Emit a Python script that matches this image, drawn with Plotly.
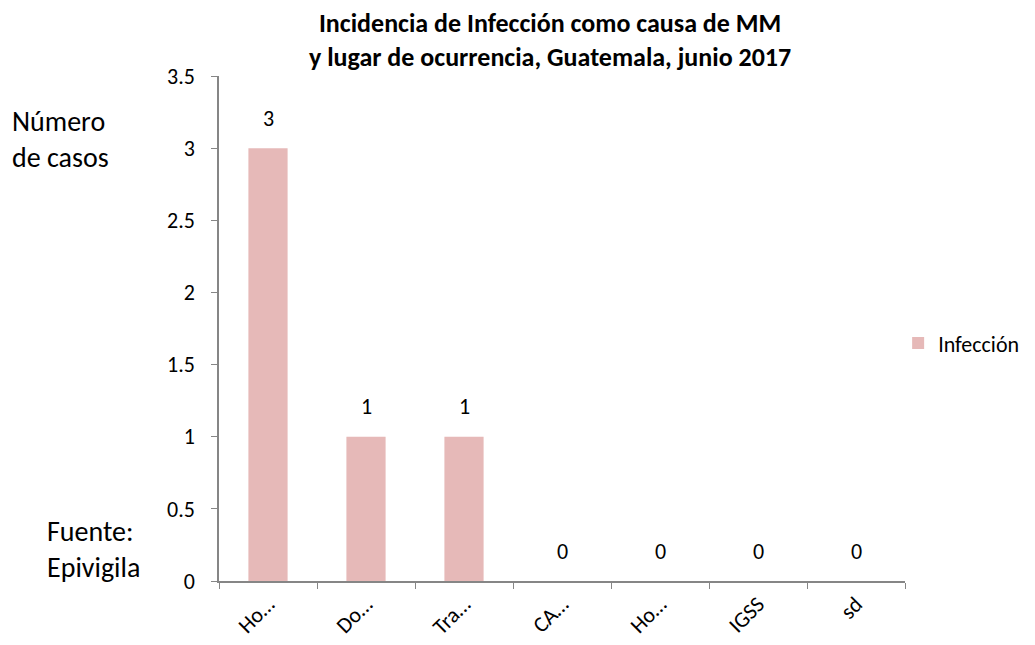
import plotly.graph_objects as go

BAR_COLOR = "#E6B9B8"
AXIS_COLOR = "#868686"
FONT = "Carlito, Calibri, Lato, sans-serif"

categories = ["Hospital", "Domicilio", "Traslado", "CAP", "Hospital privado", "IGSS", "sd"]
tick_labels = ["Ho…", "Do…", "Tra…", "CA…", "Ho…", "IGSS", "sd"]
casos = [3, 1, 1, 0, 0, 0, 0]

fig = go.Figure()

fig.add_trace(go.Bar(x=categories, y=casos, name="Infección",
                     marker=dict(color=BAR_COLOR, line=dict(width=0)),
                     width=0.4))

# data labels above each bar (Excel style, zeros included)
for cat, val in zip(categories, casos):
    fig.add_annotation(x=cat, y=val, text=str(val), showarrow=False,
                       yanchor="middle", yshift=30,
                       font=dict(size=22, color="#000000", family=FONT))

# title as annotation (two lines)
fig.add_annotation(xref="paper", yref="paper", x=0.483, y=1.071, xanchor="center", yanchor="middle",
                   text="<b>Incidencia de Infección como causa de MM<br>y lugar de ocurrencia, Guatemala, junio 2017</b>",
                   showarrow=False, align="center",
                   font=dict(size=26, color="#000000", family=FONT))

# side texts
fig.add_annotation(xref="paper", yref="paper", x=-0.305, y=0.875, xanchor="left", yanchor="middle",
                   text="Número<br>de casos", showarrow=False, align="left",
                   font=dict(size=28, color="#000000", family=FONT))
fig.add_annotation(xref="paper", yref="paper", x=-0.254, y=0.063, xanchor="left", yanchor="middle",
                   text="Fuente:<br>Epivigila", showarrow=False, align="left",
                   font=dict(size=28, color="#000000", family=FONT))

fig.update_xaxes(type="category", categoryorder="array", categoryarray=categories,
                 tickvals=categories, ticktext=tick_labels, tickangle=-45,
                 tickson="boundaries", ticks="outside", ticklen=6, tickcolor=AXIS_COLOR,
                 showline=True, linecolor=AXIS_COLOR, linewidth=1.5, showgrid=False,
                 tickfont=dict(size=22, color="#000000", family=FONT))
fig.update_yaxes(range=[0, 3.5], dtick=0.5,
                 ticks="outside", ticklen=6, tickcolor=AXIS_COLOR,
                 showline=True, linecolor=AXIS_COLOR, linewidth=1.5, showgrid=False,
                 zeroline=False, ticklabelstandoff=12,
                 tickfont=dict(size=22, color="#000000", family=FONT))

# page body adds 8px around the figure, margins take that into account
fig.update_layout(
    width=1035, height=645,
    margin=dict(l=211, r=138, t=68, b=72),
    plot_bgcolor="white", paper_bgcolor="white",
    showlegend=True,
    legend=dict(x=0.99, y=0.471, xanchor="left", yanchor="middle",
                font=dict(size=22, color="#000000", family=FONT),
                itemwidth=30, bgcolor="rgba(0,0,0,0)"),
    bargap=0.6,
)

fig.write_html("out.html")
